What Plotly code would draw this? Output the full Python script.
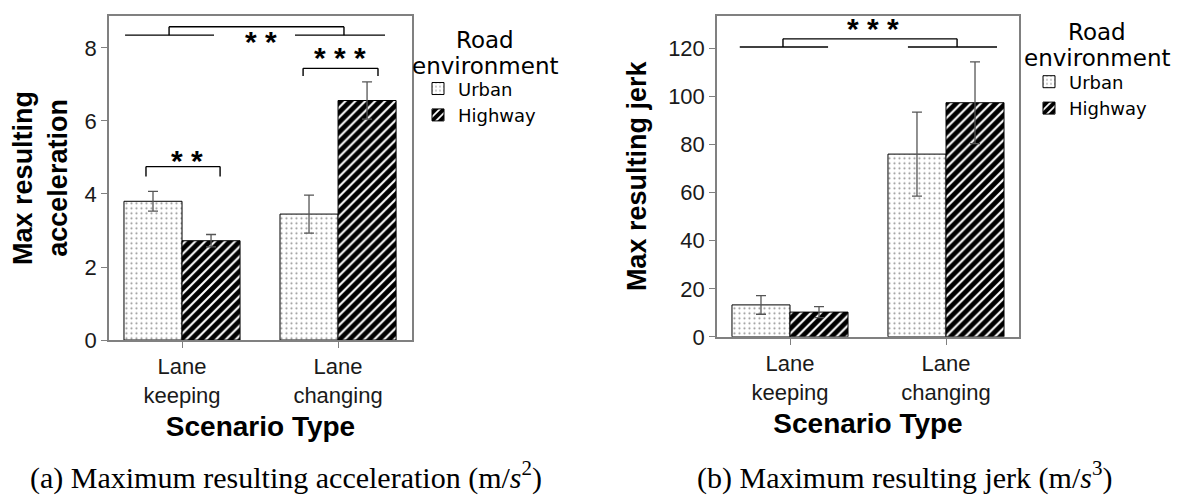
import plotly.graph_objects as go

# ---------------- data ----------------
categories = ["Lane<br>keeping", "Lane<br>changing"]
groups = ["Urban", "Highway"]

acc_urban = [3.80, 3.45]
acc_urban_err = [0.27, 0.52]
acc_highway = [2.72, 6.56]
acc_highway_err = [0.17, 0.51]

jerk_urban = [13.3, 76.1]
jerk_urban_err = [3.9, 17.5]
jerk_highway = [10.3, 97.5]
jerk_highway_err = [2.3, 17.0]

acc_ticks = [0, 2, 4, 6, 8]
jerk_ticks = [0, 20, 40, 60, 80, 100, 120]

# ---------------- styles ----------------
W, H = 1183, 495
FRAME = "#808080"
ERRC = "#555555"
SANS = "Arial"
LEG = "DejaVu Sans"

patterns = {
    "Urban": dict(shape=".", fgcolor="#9a9a9a", bgcolor="white", size=5, solidity=0.15,
                  fgopacity=1),
    "Highway": dict(shape="/", fgcolor="black", bgcolor="white", size=7, solidity=0.7,
                    fgopacity=1),
}

fig = go.Figure()

def add_bars(xa, ya, leg, series):
    for name, vals, errs in series:
        fig.add_trace(go.Bar(
            x=categories, y=vals, name=name,
            xaxis=xa, yaxis=ya, legend=leg,
            marker=dict(color="white", pattern=patterns[name],
                        line=dict(color="black", width=1)),
            error_y=dict(type="data", array=errs, color=ERRC, thickness=1.3, width=5),
        ))

add_bars("x", "y", "legend", [("Urban", acc_urban, acc_urban_err),
                              ("Highway", acc_highway, acc_highway_err)])
add_bars("x2", "y2", "legend2", [("Urban", jerk_urban, jerk_urban_err),
                                 ("Highway", jerk_highway, jerk_highway_err)])

def px_x(p):
    return p / W

def px_y(p):
    return 1 - p / H

axis_common = dict(showline=True, linecolor=FRAME, linewidth=1.5, mirror=True,
                   ticks="outside", ticklen=6, tickcolor=FRAME, showgrid=False,
                   zeroline=False)
XTF = dict(family=SANS, size=22, color="#1a1a1a")
YTF = dict(family=SANS, size=22, color="#1a1a1a")
TTF = dict(family=SANS, size=28, color="black")
YTTF = dict(family=SANS, size=27, color="black")

fig.update_layout(
    width=W, height=H,
    margin=dict(l=0, r=0, t=0, b=0),
    paper_bgcolor="white", plot_bgcolor="white",
    barmode="group", bargap=0.256, bargroupgap=0,
    xaxis=dict(domain=[px_x(101), px_x(404)], range=[-0.468, 1.474], anchor="y",
               tickfont=XTF,
               title=dict(text="<b>Scenario Type</b>", font=TTF, standoff=10),
               **axis_common),
    yaxis=dict(domain=[px_y(341), px_y(8)], range=[0, 8.88], anchor="x",
               tickvals=acc_ticks, tickfont=YTF,
               title=dict(text="<b>Max resulting<br>acceleration</b>", font=YTTF, standoff=16),
               **axis_common),
    xaxis2=dict(domain=[px_x(709), px_x(1011)], range=[-0.468, 1.468], anchor="y2",
                tickfont=XTF,
                title=dict(text="<b>Scenario Type</b>", font=TTF, standoff=10),
                **axis_common),
    yaxis2=dict(domain=[px_y(337.7), px_y(8)], range=[0, 133.7], anchor="x2",
                tickvals=jerk_ticks, tickfont=YTF,
                title=dict(text="<b>Max resulting jerk</b>", font=YTTF, standoff=14),
                **axis_common),
    legend=dict(x=px_x(410), y=px_y(64), xanchor="left", yanchor="top",
                font=dict(family=LEG, size=18, color="black"), bgcolor="rgba(0,0,0,0)",
                tracegroupgap=0, itemclick=False),
    legend2=dict(x=px_x(1021), y=px_y(57), xanchor="left", yanchor="top",
                 font=dict(family=LEG, size=18, color="black"), bgcolor="rgba(0,0,0,0)",
                 tracegroupgap=0, itemclick=False),
)

# legend titles
for cx, ys in [(477, (33, 60)), (1089, (25, 51))]:
    for txt, yy in zip(["Road", "environment"], ys):
        fig.add_annotation(text=txt, x=px_x(cx), y=px_y(yy), xref="paper", yref="paper",
                           xanchor="center", yanchor="middle", showarrow=False,
                           font=dict(family=LEG, size=23, color="black"))

# significance brackets (data coordinates)
LINE = dict(color="black", width=1.4)

def seg(xa, ya, x0, y0, x1, y1):
    fig.add_shape(type="line", xref=xa, yref=ya, x0=x0, y0=y0, x1=x1, y1=y1, line=LINE)

def bracket(xa, ya, x0, x1, y_top, y_leg):
    seg(xa, ya, x0, y_top, x1, y_top)
    seg(xa, ya, x0, y_top, x0, y_leg)
    seg(xa, ya, x1, y_top, x1, y_leg)

def star(xa, ya, x, y, txt):
    fig.add_annotation(text="<b>" + txt + "</b>", x=x, y=y, xref=xa, yref=ya, showarrow=False,
                       xanchor="center", yanchor="middle", yshift=2,
                       font=dict(family=SANS, size=30, color="black"))

# left panel
seg("x", "y", -0.365, 8.35, 0.205, 8.35)
seg("x", "y", 0.724, 8.35, 1.301, 8.35)
bracket("x", "y", -0.083, 1.038, 8.58, 8.35)
star("x", "y", 0.506, 8.12, "* *")
bracket("x", "y", 0.776, 1.256, 7.44, 7.23)
star("x", "y", 1.013, 7.68, "* * *")
bracket("x", "y", -0.231, 0.244, 4.75, 4.48)
star("x", "y", 0.03, 4.86, "* *")

# right panel
seg("x2", "y2", -0.322, 120.7, 0.244, 120.7)
seg("x2", "y2", 0.756, 120.7, 1.327, 120.7)
bracket("x2", "y2", -0.045, 1.071, 124.1, 120.7)
star("x2", "y2", 0.532, 127.4, "* * *")

# captions
for cx, txt in [(278, "(a) Maximum resulting acceleration (m/<i>s</i><sup>2</sup>)"),
                (896, "(b) Maximum resulting jerk (m/<i>s</i><sup>3</sup>)")]:
    fig.add_annotation(text=txt, x=px_x(cx), y=px_y(480), xref="paper", yref="paper",
                       xanchor="center", yanchor="middle", showarrow=False,
                       font=dict(family="Liberation Serif", size=30, color="black"))

fig.write_html("out.html")
